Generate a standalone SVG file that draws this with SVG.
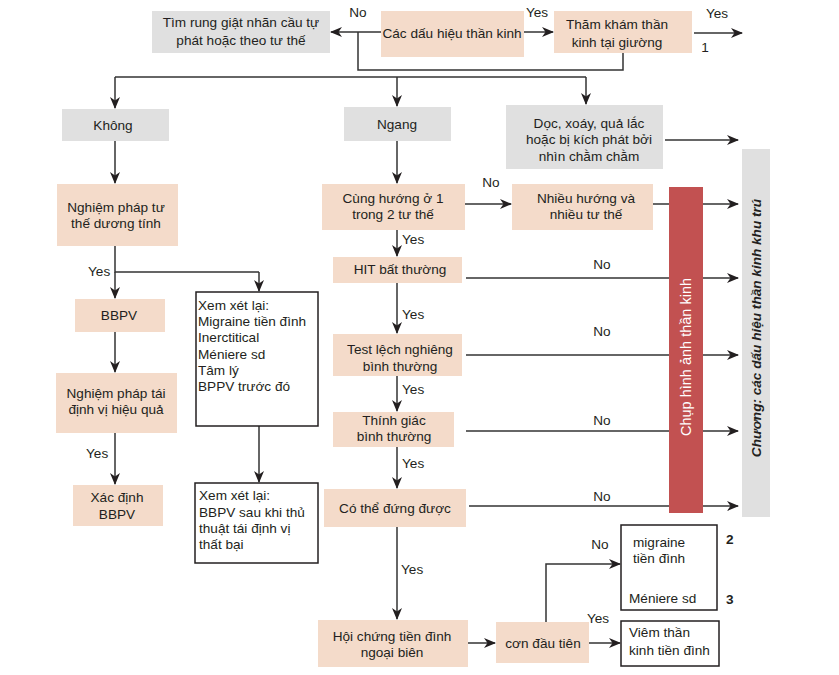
<svg xmlns="http://www.w3.org/2000/svg" width="839" height="675" viewBox="0 0 839 675">
<defs>
<style>
text{font-family:"Liberation Sans",Arial,sans-serif;font-size:13.6px;fill:#231F20}
.c{text-anchor:middle}
.p{fill:#F4DBCA}
.g{fill:#E0E0E0}
.w{fill:#fff;stroke:#231F20;stroke-width:1.5}
.ln{fill:none;stroke:#333;stroke-width:1.5}
.ar{fill:none;stroke:#333;stroke-width:1.5;marker-end:url(#ah)}
</style>
<marker id="ah" viewBox="0 0 12 10" refX="11" refY="5" markerWidth="12" markerHeight="10" markerUnits="userSpaceOnUse" orient="auto">
<path d="M0,0 L12,5 L0,10 L3.5,5 Z" fill="#231F20"/>
</marker>
</defs>
<rect width="839" height="675" fill="#fff"/>

<g id="connectors">
<path class="ar" d="M381,32 H331"/>
<path class="ar" d="M524,32 H553"/>
<path class="ar" d="M694,33 H742"/>
<path class="ln" d="M358,32 V70 H623 V53"/>
<path class="ln" d="M115,77 H586"/>
<path class="ar" d="M115,77 V108"/>
<path class="ar" d="M397,77 V106"/>
<path class="ar" d="M586,77 V104"/>
<path class="ar" d="M665,140 H738"/>
<path class="ar" d="M115,141 V183"/>
<path class="ar" d="M397,141 V183"/>
<path class="ar" d="M465,204 H511"/>
<path class="ar" d="M653,204 H738"/>
<path class="ln" d="M115,246 V272 H259"/>
<path class="ar" d="M115,272 V298"/>
<path class="ar" d="M259,272 V291"/>
<path class="ar" d="M115,332 V372"/>
<path class="ar" d="M115,433 V484"/>
<path class="ar" d="M259,426 V482"/>
<path class="ar" d="M397,230 V256"/>
<path class="ar" d="M397,283 V333"/>
<path class="ar" d="M397,376 V411"/>
<path class="ar" d="M397,447 V488"/>
<path class="ar" d="M397,527 V619"/>
<path class="ar" d="M466,278 H738"/>
<path class="ar" d="M466,355 H738"/>
<path class="ar" d="M466,431 H738"/>
<path class="ar" d="M469,506 H738"/>
<path class="ar" d="M468,643 H495"/>
<path class="ar" d="M589,643 H620"/>
<path class="ar" d="M546,622 V564 H620"/>
</g>

<g id="labels">
<text x="358" y="17" class="c">No</text>
<text x="537" y="17" class="c">Yes</text>
<text x="717" y="18" class="c">Yes</text>
<text x="705" y="52" class="c">1</text>
<text x="491" y="187" class="c">No</text>
<text x="402" y="244">Yes</text>
<text x="402" y="319">Yes</text>
<text x="402" y="394">Yes</text>
<text x="402" y="468">Yes</text>
<text x="401" y="574">Yes</text>
<text x="602" y="269" class="c">No</text>
<text x="602" y="336" class="c">No</text>
<text x="602" y="425" class="c">No</text>
<text x="602" y="501" class="c">No</text>
<text x="88" y="276">Yes</text>
<text x="86" y="458">Yes</text>
<text x="600" y="549" class="c">No</text>
<text x="598" y="623" class="c">Yes</text>
</g>

<g id="n-tim"><rect class="g" x="152" y="11" width="178" height="42"/><text x="241" y="27" class="c">Tìm rung giật nhãn cầu tự</text><text x="241" y="45" class="c">phát hoặc theo tư thế</text></g>
<g id="n-cac"><rect class="p" x="381" y="11" width="143" height="46"/><text x="452" y="38" class="c">Các dấu hiệu thần kinh</text></g>
<g id="n-tham"><rect class="p" x="554" y="11" width="138" height="42"/><text x="617" y="29" class="c">Thăm khám thần</text><text x="617" y="47" class="c">kinh tại giường</text></g>
<g id="n-khong"><rect class="g" x="62" y="109" width="107" height="32"/><text x="113" y="130" class="c">Không</text></g>
<g id="n-ngang"><rect class="g" x="344" y="107" width="107" height="34"/><text x="397" y="129" class="c">Ngang</text></g>
<g id="n-doc"><rect class="g" x="506" y="105" width="157" height="64"/><text x="589" y="128" class="c">Dọc, xoáy, quả lắc</text><text x="589" y="144" class="c">hoặc bị kích phát bởi</text><text x="589" y="161" class="c">nhìn chằm chằm</text></g>
<g id="n-nghiem1"><rect class="p" x="57" y="184" width="121" height="62"/><text x="116" y="212" class="c">Nghiệm pháp tư</text><text x="116" y="228" class="c">thế dương tính</text></g>
<g id="n-cung"><rect class="p" x="322" y="184" width="143" height="46"/><text x="393" y="203" class="c">Cùng hướng ở 1</text><text x="393" y="219" class="c">trong 2 tư thế</text></g>
<g id="n-nhieu"><rect class="p" x="512" y="184" width="141" height="46"/><text x="586" y="203" class="c">Nhiều hướng và</text><text x="586" y="219" class="c">nhiều tư thế</text></g>
<g id="n-chup"><rect x="669" y="187" width="34" height="326" fill="#C25151"/><text transform="translate(691,357) rotate(-90)" class="c" style="fill:#fff;font-size:14.5px">Chụp hình ảnh thần kinh</text></g>
<g id="n-chuong"><rect class="g" x="742" y="149" width="28" height="368"/><text transform="translate(761,328) rotate(-90)" class="c" style="font-weight:bold;font-style:italic">Chương: các dấu hiệu thần kinh khu trú</text></g>
<g id="n-bbpv"><rect class="p" x="75" y="299" width="90" height="33"/><text x="119" y="320" class="c">BBPV</text></g>
<g id="n-xem1"><rect class="w" x="196" y="292" width="122" height="134"/><text x="198" y="310">Xem xét lại:</text><text x="198" y="326">Migraine tiền đình</text><text x="198" y="342">Inerctitical</text><text x="198" y="359">Méniere sd</text><text x="198" y="375">Tâm lý</text><text x="198" y="391">BPPV trước đó</text></g>
<g id="n-nghiem2"><rect class="p" x="56" y="373" width="121" height="60"/><text x="116" y="398" class="c">Nghiệm pháp tái</text><text x="116" y="414" class="c">định vị hiệu quả</text></g>
<g id="n-xacdinh"><rect class="p" x="73" y="485" width="90" height="41"/><text x="117" y="502" class="c">Xác định</text><text x="117" y="519" class="c">BBPV</text></g>
<g id="n-xem2"><rect class="w" x="195" y="483" width="123" height="80"/><text x="199" y="500">Xem xét lại:</text><text x="199" y="517">BBPV sau khi thủ</text><text x="199" y="533">thuật tái định vị</text><text x="199" y="549">thất bại</text></g>
<g id="n-hit"><rect class="p" x="333" y="257" width="129" height="26"/><text x="400" y="274" class="c">HIT bất thường</text></g>
<g id="n-test"><rect class="p" x="333" y="334" width="129" height="42"/><text x="400" y="354" class="c">Test lệch nghiêng</text><text x="400" y="371" class="c">bình thường</text></g>
<g id="n-thinh"><rect class="p" x="333" y="412" width="121" height="35"/><text x="394" y="425" class="c">Thính giác</text><text x="394" y="441" class="c">bình thường</text></g>
<g id="n-cothe"><rect class="p" x="324" y="489" width="142" height="38"/><text x="395" y="513" class="c">Có thể đứng được</text></g>
<g id="n-hoi"><rect class="p" x="318" y="620" width="150" height="47"/><text x="392" y="641" class="c">Hội chứng tiền đình</text><text x="392" y="657" class="c">ngoại biên</text></g>
<g id="n-con"><rect class="p" x="496" y="622" width="93" height="41"/><text x="543" y="648" class="c">cơn đầu tiên</text></g>
<g id="n-migraine"><rect class="w" x="621" y="525" width="96" height="85"/><text x="633" y="547">migraine</text><text x="633" y="563">tiền đình</text><text x="629" y="603">Méniere sd</text><text x="726" y="544" style="font-weight:bold">2</text><text x="726" y="604" style="font-weight:bold">3</text></g>
<g id="n-viem"><rect class="w" x="621" y="621" width="98" height="45"/><text x="629" y="637">Viêm thần</text><text x="629" y="655">kinh tiền đình</text></g>
</svg>
